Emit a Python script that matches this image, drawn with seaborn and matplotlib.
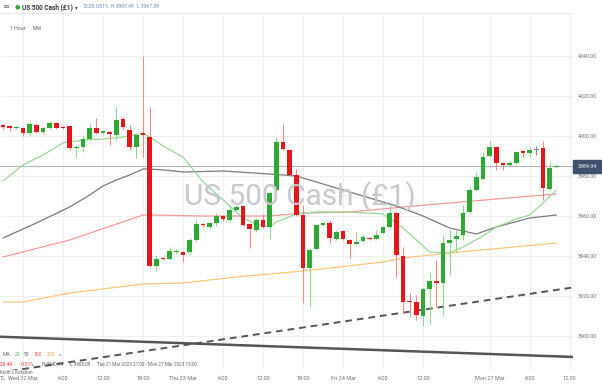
import numpy as np
import pandas as pd
import matplotlib
matplotlib.use("Agg")
import matplotlib.pyplot as plt
import seaborn as sns

# ---------------- data (hourly candles) ----------------
opens = [4005.5, 4005, 4004, 4004, 4001.5, 4005.5, 4002, 4004, 4006.5, 4004.5,
         4005, 3994, 3994.5, 3998.5, 4004, 4001.5, 4002, 4000.5, 4008.5, 4003,
         3994.5, 4001.5, 3999.5, 3935, 3939, 3938.5, 3942, 3942, 3942, 3948,
         3956, 3954.5, 3956.5, 3960, 3958, 3963, 3965, 3956, 3953, 3958,
         3954.5, 3973, 3997, 3993, 3980.5, 3960.5, 3934, 3943.5, 3955.5, 3956.5,
         3948.5, 3952.5, 3948, 3946, 3947.5, 3949, 3948.5, 3951.5, 3954.5, 3961.5,
         3940, 3917.5, 3917, 3910, 3923.5, 3927.5, 3926.5, 3946.5, 3948.5, 3950.5,
         3962, 3973, 3978.5, 3990, 3994.5, 3986.5, 3985.5, 3986.5, 3992.5, 3991.5,
         3993, 3994, 3973.5, 3984.5]
highs = [4006, 4005.5, 4005, 4004.5, 4007, 4006, 4004.5, 4007.5, 4007, 4005,
         4005.5, 3995.5, 4000, 4006, 4009, 4003, 4002.5, 4014.5, 4009.5, 4005.5,
         4001.5, 4040.14, 4014.5, 3940.5, 3939.5, 3944.5, 3943.5, 3942.5, 3949, 3958,
         3956.5, 3957, 3961.5, 3960.5, 3965, 3965.5, 3965.5, 3956.5, 3959, 3961,
         3972.5, 3999, 4006, 3993.5, 3983.5, 3965.5, 3944, 3956, 3957, 3958,
         3953, 3953, 3948.5, 3952, 3950.5, 3949.5, 3953, 3955, 3965.5, 3962,
         3944.5, 3921.5, 3920.5, 3924.5, 3931.5, 3938, 3950.5, 3953, 3953, 3965.5,
         3974.5, 3982, 3992, 3997.5, 3995, 3987, 3987.5, 3992.5, 3993, 3994.5,
         3995, 3997.49, 3987, 3985.5]
lows = [4003.5, 4002.5, 4003.5, 4000, 4000, 4001.5, 4001, 4003.5, 4003.5, 4003.5,
        3993, 3989.5, 3992, 3998, 4001, 4001, 3995.5, 3998, 4003, 3993,
        3989, 3989.5, 3934.5, 3932.5, 3938, 3938, 3941, 3937, 3941, 3947,
        3954.5, 3953.5, 3955, 3957.5, 3957, 3962.5, 3955, 3944, 3952, 3954,
        3949, 3972, 3993, 3980, 3960, 3916.5, 3914.5, 3943, 3955, 3946.5,
        3948, 3948, 3939, 3945.5, 3947, 3948, 3948, 3951, 3954, 3929.5,
        3911.5, 3909.5, 3908, 3905.09, 3906, 3914.5, 3910.5, 3930.5, 3942, 3948,
        3961, 3972.5, 3978, 3989.5, 3983, 3983, 3985, 3986, 3989.5, 3989.5,
        3990.5, 3968, 3973, 3984]
closes = [4004.5, 4004, 4004.5, 4001.5, 4006, 4002, 4004, 4006.5, 4004, 4004,
          3994, 3994.5, 3998.5, 4004, 4001.5, 4002.5, 4001, 4008, 4004.5, 3994.5,
          4000.5, 4000.5, 3935, 3938.5, 3938.5, 3942.5, 3942.5, 3940.5, 3948, 3956,
          3955.5, 3956.5, 3960, 3958.5, 3963, 3964.5, 3955.5, 3953.5, 3958, 3954.5,
          3971.5, 3997, 3993.5, 3980.5, 3960.5, 3934, 3943, 3955.5, 3956.5, 3949,
          3952, 3948.5, 3946, 3947, 3949.5, 3948.5, 3950.5, 3954.5, 3961.5, 3940.5,
          3917, 3917, 3910.5, 3923.5, 3927.5, 3926.5, 3946.5, 3948, 3950, 3961.5,
          3973, 3979.5, 3989.5, 3994.5, 3986.5, 3985.5, 3986.5, 3992, 3991.5, 3993,
          3993, 3974, 3984, 3984.94]

ma20_idx = [0, 3, 6, 9, 12, 15, 18, 21, 22, 24, 27, 30, 33, 36, 38, 40, 41, 44,
            47, 52, 57, 60, 62, 64, 67, 69, 72, 74, 77, 79, 81, 83]
ma20_val = [3977.5, 3985.5, 3990.5, 3996.5, 3998, 3998.5, 3999.5, 4001.5, 3999.5,
            3995, 3989.5, 3977, 3968, 3959, 3956, 3954.5, 3957, 3961, 3962, 3962,
            3961, 3954, 3948, 3942, 3941.5, 3944.5, 3950, 3954.5, 3958.5, 3960.5,
            3966.5, 3973]
ma50_idx = [0, 5, 10, 13, 15, 17, 19, 21, 22, 25, 27, 33, 40, 44, 49, 55, 59, 63,
            67, 71, 74, 79, 83]
ma50_val = [3949, 3956.5, 3964.5, 3970.5, 3975, 3978, 3980.5, 3983.5, 3983.5,
            3982.75, 3982, 3982.5, 3981, 3980, 3975, 3969, 3965, 3960, 3954, 3951,
            3954.5, 3959, 3960.5]
ma100_idx = [0, 10, 21, 22, 30, 40, 45, 52, 60, 67, 74, 83]
ma100_val = [3939.5, 3948, 3960.5, 3960.5, 3960, 3960, 3961.5, 3962, 3964.5,
             3966.5, 3968.5, 3971]
ma200_idx = [0, 3, 10, 21, 27, 35, 45, 57, 60, 67, 83]
ma200_val = [3917, 3917, 3921.5, 3926, 3926.5, 3929.5, 3932.5, 3937, 3939,
             3941.5, 3946.5]

trend_solid_idx = [-1, 90]
trend_solid_val = [3899.7, 3889.0]
trend_dash_idx = [-1, 90]
trend_dash_val = [3881.5, 3926.5]

last_price = 3984.94
y_ticks = [3900, 3920, 3940, 3960, 3980, 4000, 4020, 4040]
x_tick_pos = [3, 9, 15, 21, 27, 33, 39, 45, 51, 57, 63, 73, 79, 85]
x_tick_labels = ["Wed 22 Mar", "6:00", "12:00", "18:00", "Thu 23 Mar", "6:00",
                 "12:00", "18:00", "Fri 24 Mar", "6:00", "12:00", "Mon 27 Mar",
                 "6:00", "12:00"]

# ---------------- styling ----------------
sns.set_theme(style="white")
plt.rcParams['font.family'] = ['Roboto', 'DejaVu Sans']

W, H = 602, 385
fig = plt.figure(figsize=(W / 100, H / 100), dpi=100)
ax_top, ax_bot, ax_right = 13, 370, 573
ax = fig.add_axes([0, (H - ax_bot) / H, ax_right / W, (ax_bot - ax_top) / H])

px_per = 6.667
x0 = 3
ax.set_xlim((0 - x0) / px_per, (ax_right - x0) / px_per)
ax.set_ylim(4000 - (ax_bot - 136) / 2, 4000 + (136 - ax_top) / 2)

for s in ax.spines.values():
    s.set_visible(False)
ax.spines['top'].set_visible(True)
ax.spines['top'].set_color('#e4e4e4')
ax.spines['top'].set_linewidth(0.6)

ax.set_xticks(x_tick_pos)
ax.set_xticklabels(x_tick_labels)
ax.set_yticks(y_ticks)
ax.set_yticklabels([f"{v:.2f}" for v in y_ticks])
ax.yaxis.tick_right()
ax.tick_params(axis='y', length=0, pad=3.5, labelsize=3.9, labelcolor='#707070')
ax.tick_params(axis='x', length=0, pad=4.0, labelsize=4.0, labelcolor='#707070')
ax.grid(True, color='#ececec', lw=0.6, zorder=0)
ax.set_axisbelow(True)

# watermark
fig.text(300 / W, (H - 197) / H, "US 500 Cash (£1)", fontsize=21.5,
         color='#c8c8cd', ha='center', va='center', zorder=0.5)

# moving averages and trend lines
sns.lineplot(x=ma200_idx, y=ma200_val, ax=ax, color='#f9c879', lw=0.9, zorder=2)
sns.lineplot(x=ma100_idx, y=ma100_val, ax=ax, color='#f29a9a', lw=0.9, zorder=2)
sns.lineplot(x=ma50_idx, y=ma50_val, ax=ax, color='#7a7a7a', lw=0.9, zorder=2)
sns.lineplot(x=ma20_idx, y=ma20_val, ax=ax, color='#9ad89a', lw=0.9, zorder=2)
sns.lineplot(x=trend_solid_idx, y=trend_solid_val, ax=ax, color='#555555', lw=1.8,
             zorder=2)
sns.lineplot(x=trend_dash_idx, y=trend_dash_val, ax=ax, color='#555555', lw=1.4,
             linestyle=(0, (3.5, 2.5)), zorder=2)

# last price line
ax.axhline(last_price, color='#b5b5b5', lw=0.8, zorder=1.5)

# candles
o = np.array(opens); c = np.array(closes)
h = np.array(highs); l = np.array(lows)
idx = np.arange(len(o))
body_col = np.where(c > o, '#2fa836', np.where(c < o, '#e3161c', '#888888'))
wick_col = np.where(c > o, '#8fd48f', np.where(c < o, '#f28a8a', '#888888'))
ax.vlines(idx, l, h, colors=wick_col, lw=0.8, zorder=3)
bottoms = np.minimum(o, c)
heights = np.maximum(np.abs(c - o), 0.7)
ax.bar(idx, heights, bottom=bottoms, width=0.72, color=body_col, lw=0, zorder=4)

# price box
ypx = 136 + (4000 - last_price) * 2
fig.patches.append(plt.Rectangle((573 / W, (H - ypx - 6.5) / H), 28 / W, 13 / H,
                                 transform=fig.transFigure, color='#3f516d',
                                 zorder=5))
fig.text(587 / W, (H - ypx) / H, f"{last_price:.2f}", fontsize=3.8, color='white',
         ha='center', va='center', zorder=6)

# header
def ftxt(x, y, s, **kw):
    kw.setdefault('fontsize', 3.6)
    kw.setdefault('va', 'center')
    fig.text(x / W, (H - y) / H, s, **kw)

ftxt(2, 7, "≡", fontsize=6, color='#777777')
ftxt(17, 7, "●", fontsize=4.5, color='#2fa836', ha='center')
ftxt(22, 7, "US 500 Cash (£1)", fontsize=4.7, color='#333333', weight='bold')
ftxt(75, 7.5, "▾", fontsize=4, color='#444444')
ftxt(83, 7, "12:25", color='#5d8dc6')
ftxt(96, 7, "0.51%", color='#5d8dc6')
ftxt(111, 7, "H 3997.49", color='#6f8fb5')
ftxt(137, 7, "L 3967.39", color='#6f8fb5')
ftxt(10, 28, "1 Hour", color='#666666', fontsize=3.8)
ftxt(33, 28, "Mid", color='#666666', fontsize=3.8)

# bottom-left legend
ftxt(3, 355, "MA", color='#777777')
ftxt(15, 355, "20", color='#5cb85c')
ftxt(24, 355, "50", color='#555555')
ftxt(34, 355, "100", color='#e05050')
ftxt(47, 355, "200", color='#f0a838')
ftxt(59, 355, "×", color='#888888')
ftxt(0, 365, "-20.44", color='#e03030', fontsize=3.3)
ftxt(21, 365, "-0.51%", color='#e03030', fontsize=3.3)
ftxt(42, 365, "H 4040.14", color='#555555', fontsize=3.3)
ftxt(70, 365, "L 3905.09", color='#555555', fontsize=3.3)
ftxt(97, 365, "Tue 21 Mar 2023 21:00 - Mon 27 Mar 2023 15:00", color='#666666',
     fontsize=3.3)
ftxt(0, 372, "Keith's Rotation", color='#666666', fontsize=3.3)
ftxt(0, 378, "TL", color='#707070', fontsize=3.9)

fig.savefig("out.png", dpi=100)
